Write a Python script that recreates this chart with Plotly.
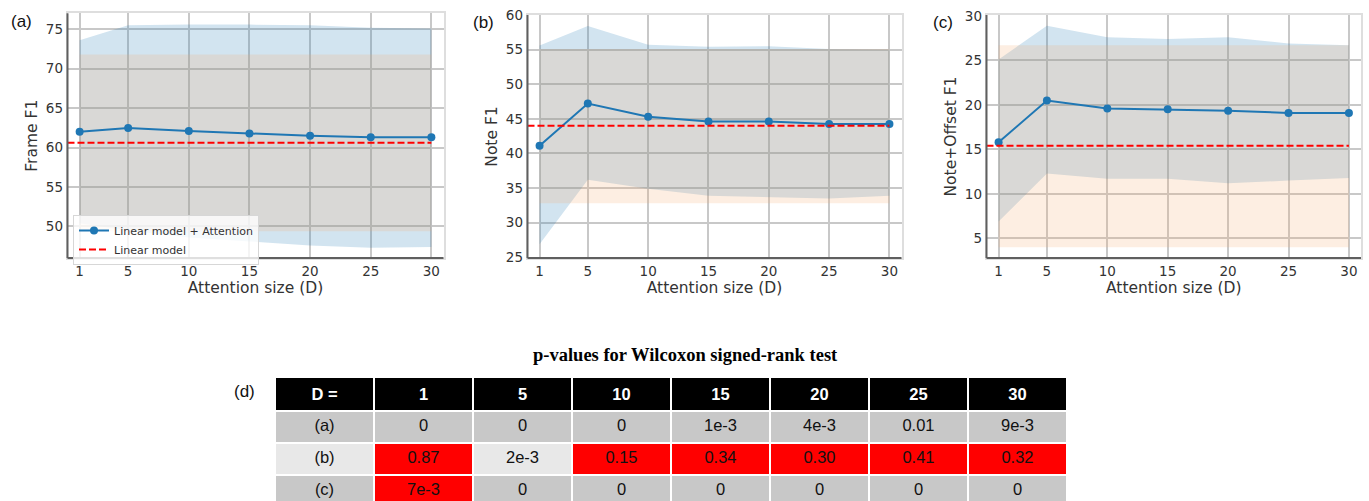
import plotly.graph_objects as go

# ---------------- data ----------------
D = [1, 5, 10, 15, 20, 25, 30]
X_TICKS = [1, 5, 10, 15, 20, 25, 30]

# (a) Frame F1
a_att_mean = [62.0, 62.5, 62.1, 61.8, 61.5, 61.3, 61.3]
a_att_upper = [73.6, 75.5, 75.6, 75.6, 75.5, 75.2, 75.1]
a_att_lower = [50.4, 49.5, 48.6, 48.1, 47.6, 47.3, 47.4]
a_lin_mean = 60.6
a_lin_upper = 71.8
a_lin_lower = 49.4

# (b) Note F1
b_att_mean = [41.1, 47.2, 45.3, 44.6, 44.6, 44.25, 44.25]
b_att_upper = [55.6, 58.4, 55.7, 55.4, 55.5, 55.1, 55.0]
b_att_lower = [26.9, 36.2, 34.9, 33.9, 33.7, 33.5, 33.9]
b_lin_mean = 44.0
b_lin_upper = 55.1
b_lin_lower = 32.8

# (c) Note+Offset F1
c_att_mean = [15.8, 20.5, 19.6, 19.5, 19.35, 19.1, 19.1]
c_att_upper = [25.1, 28.9, 27.6, 27.4, 27.6, 26.9, 26.7]
c_att_lower = [6.9, 12.3, 11.7, 11.7, 11.2, 11.5, 11.8]
c_lin_mean = 15.4
c_lin_upper = 26.7
c_lin_lower = 4.0

# (d) p-values table
table_header = ["D =", "1", "5", "10", "15", "20", "25", "30"]
row_labels = ["(a)", "(b)", "(c)"]
p_a = ["0", "0", "0", "1e-3", "4e-3", "0.01", "9e-3"]
p_b = ["0.87", "2e-3", "0.15", "0.34", "0.30", "0.41", "0.32"]
p_c = ["7e-3", "0", "0", "0", "0", "0", "0"]
hl_a = [0, 0, 0, 0, 0, 0, 0]
hl_b = [1, 0, 1, 1, 1, 1, 1]
hl_c = [1, 0, 0, 0, 0, 0, 0]

# ---------------- style ----------------
W, H = 1369, 501
BLUE = "#1f77b4"
RED = "#ff0000"
BLUE_FILL = "rgba(31,119,180,0.2)"
ORANGE_FILL = "rgba(245,170,110,0.2)"
FONT = "DejaVu Sans"

def px_x(p):
    return p / W

def px_y(p):
    return 1 - p / H

panels = [
    dict(name="a", xdom=(67.5, 443.5), ydom=(13.3, 258), yr=[46.0, 77.03], yt=[50, 55, 60, 65, 70, 75],
         mean=a_att_mean, up=a_att_upper, lo=a_att_lower, lm=a_lin_mean, lu=a_lin_upper, ll=a_lin_lower,
         title="Frame F1", label="(a)", lab_xy=(21, 21.5)),
    dict(name="b", xdom=(527.5, 901.5), ydom=(15, 258), yr=[24.9, 60.0], yt=[25, 30, 35, 40, 45, 50, 55, 60],
         mean=b_att_mean, up=b_att_upper, lo=b_att_lower, lm=b_lin_mean, lu=b_lin_upper, ll=b_lin_lower,
         title="Note F1", label="(b)", lab_xy=(483, 23)),
    dict(name="c", xdom=(986.5, 1361), ydom=(15, 258), yr=[2.8, 30.1], yt=[5, 10, 15, 20, 25, 30],
         mean=c_att_mean, up=c_att_upper, lo=c_att_lower, lm=c_lin_mean, lu=c_lin_upper, ll=c_lin_lower,
         title="Note+Offset F1", label="(c)", lab_xy=(943, 22)),
]
X_RANGE = [0, 31]

fig = go.Figure()
layout = dict(
    width=W, height=H, margin=dict(l=0, r=0, t=0, b=0, autoexpand=False),
    paper_bgcolor="white", plot_bgcolor="white",
    font=dict(family=FONT, color="#333333"),
    showlegend=True,
    legend=dict(x=px_x(73), y=px_y(215), xanchor="left", yanchor="top",
                bgcolor="rgba(255,255,255,0.8)", bordercolor="rgb(215,215,215)", borderwidth=1,
                font=dict(size=11, family=FONT, color="#333333"), tracegroupgap=0),
)
annotations = []
shapes = []

for i, p in enumerate(panels):
    k = "" if i == 0 else str(i + 1)
    xa, ya = "x" + k, "y" + k
    # attention band
    fig.add_trace(go.Scatter(x=D + D[::-1], y=p["up"] + p["lo"][::-1], fill="toself",
                             fillcolor=BLUE_FILL, line=dict(width=0), mode="lines",
                             hoverinfo="skip", showlegend=False, xaxis=xa, yaxis=ya))
    # linear model band
    fig.add_trace(go.Scatter(x=D + D[::-1], y=[p["lu"]] * len(D) + [p["ll"]] * len(D), fill="toself",
                             fillcolor=ORANGE_FILL, line=dict(width=0), mode="lines",
                             hoverinfo="skip", showlegend=False, xaxis=xa, yaxis=ya))
    # attention mean
    fig.add_trace(go.Scatter(x=D, y=p["mean"], mode="lines+markers", name="Linear model + Attention",
                             line=dict(color=BLUE, width=2), marker=dict(size=8, color=BLUE),
                             showlegend=(i == 0), xaxis=xa, yaxis=ya))
    # linear model mean
    fig.add_trace(go.Scatter(x=[X_RANGE[0], D[-1]], y=[p["lm"], p["lm"]], mode="lines", name="Linear model",
                             line=dict(color=RED, width=2, dash="7px,3px"),
                             showlegend=(i == 0), xaxis=xa, yaxis=ya))

    layout["xaxis" + k] = dict(
        domain=[px_x(p["xdom"][0]), px_x(p["xdom"][1])], anchor=ya, range=X_RANGE, automargin=False,
        tickvals=X_TICKS, ticks="outside", ticklen=0, tickcolor="rgba(0,0,0,0)",
        tickfont=dict(size=13.5, family=FONT, color="#333333"),
        showgrid=True, gridcolor="rgb(200,200,200)", gridwidth=1.5,
        showline=True, linecolor="rgb(222,222,222)", linewidth=1.5, mirror=True, zeroline=False,
        title=dict(text="Attention size (D)", font=dict(size=15.5, family=FONT, color="#333333"), standoff=4),
    )
    layout["yaxis" + k] = dict(
        domain=[px_y(p["ydom"][1]), px_y(p["ydom"][0])], anchor=xa, range=p["yr"], automargin=False,
        tickvals=p["yt"], ticks="outside", ticklen=0, tickcolor="rgba(0,0,0,0)",
        tickfont=dict(size=13.5, family=FONT, color="#333333"),
        showgrid=True, gridcolor="rgb(200,200,200)", gridwidth=1.5,
        showline=True, linecolor="rgb(222,222,222)", linewidth=1.5, mirror=True, zeroline=False,
        title=dict(text=p["title"], font=dict(size=15.5, family=FONT, color="#333333"), standoff=4),
    )
    # darker left & bottom spines
    shapes.append(dict(type="line", xref=xa + " domain", yref=ya + " domain", x0=0, x1=0, y0=0, y1=1,
                       line=dict(color="rgb(95,95,95)", width=2)))
    shapes.append(dict(type="line", xref=xa + " domain", yref=ya + " domain", x0=0, x1=1, y0=0, y1=0,
                       line=dict(color="rgb(95,95,95)", width=2)))
    annotations.append(dict(text=p["label"], x=px_x(p["lab_xy"][0]), y=px_y(p["lab_xy"][1]),
                            xref="paper", yref="paper", showarrow=False, xanchor="center", yanchor="middle",
                            font=dict(size=17, family="Liberation Sans", color="#111111")))

# ---------------- table ----------------
GRAY = "rgb(200,200,200)"
LIGHT = "rgb(232,232,232)"
HL = "rgb(255,0,0)"
rows = [(p_a, hl_a, GRAY), (p_b, hl_b, LIGHT), (p_c, hl_c, GRAY)]
cols_vals = [row_labels] + [[r[0][j] for r in rows] for j in range(len(D))]
cols_fill = [[r[2] for r in rows]] + [[HL if r[1][j] else r[2] for r in rows] for j in range(len(D))]
TFONT = "Liberation Sans"
fig.add_trace(go.Table(
    domain=dict(x=[px_x(275), px_x(1067)], y=[0, px_y(377)]),
    columnwidth=[1] * len(table_header),
    header=dict(values=["<b>%s</b>" % h for h in table_header], fill_color="black",
                line=dict(color="white", width=2), align="center", height=32,
                font=dict(color="white", size=16.5, family=TFONT)),
    cells=dict(values=cols_vals, fill_color=cols_fill, line=dict(color="white", width=2),
               align="center", height=32, font=dict(color="#111111", size=16.5, family=TFONT)),
))

annotations.append(dict(text="<b>p-values for Wilcoxon signed-rank test</b>", x=px_x(685), y=px_y(355),
                        xref="paper", yref="paper", showarrow=False, xanchor="center", yanchor="middle",
                        font=dict(size=18.5, family="Liberation Serif", color="black")))
annotations.append(dict(text="(d)", x=px_x(244.5), y=px_y(391), xref="paper", yref="paper",
                        showarrow=False, xanchor="center", yanchor="middle",
                        font=dict(size=17, family="Liberation Sans", color="#111111")))

layout["annotations"] = annotations
layout["shapes"] = shapes
fig.update_layout(**layout)
fig.write_html("out.html", config={"displayModeBar": False},
               post_script="document.body.style.margin='0';document.body.style.overflow='hidden';")
